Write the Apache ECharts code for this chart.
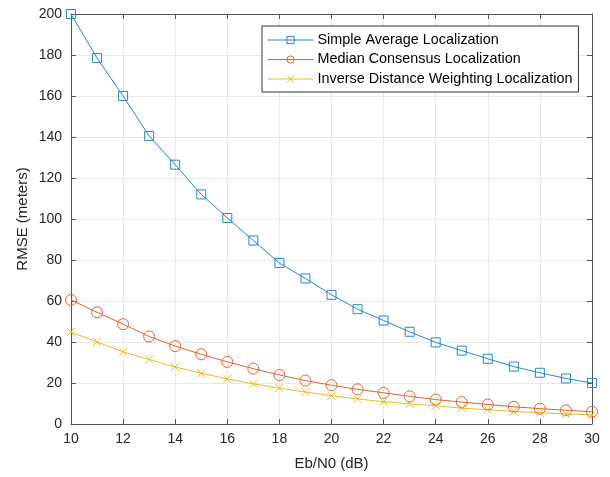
<!DOCTYPE html>
<html>
<head>
    <meta charset="UTF-8">
    <title>RMSE vs Eb/N0</title>
    <script src="https://cdn.jsdelivr.net/npm/echarts@6/dist/echarts.min.js"></script>
</head>
<body style="margin:0;background:#fff;">
<div id="main" style="width:610px;height:477px;"></div>
<script type="text/javascript">
    // x 轴 Eb/N0 (dB)
    var ebn0 = [10, 11, 12, 13, 14, 15, 16, 17, 18, 19, 20, 21, 22, 23, 24, 25, 26, 27, 28, 29, 30];
    // 三种定位方法的 RMSE
    var simpleAvg = [200, 178.5, 160, 140.5, 126.5, 112, 100.5, 89.5, 78.5, 71, 63, 56, 50.5, 45, 39.8, 35.8, 31.8, 28, 25, 22.2, 20];
    var medianCons = [60.5, 54.5, 48.7, 42.7, 38, 34, 30.3, 27, 23.9, 21.2, 18.9, 16.9, 15.2, 13.5, 11.9, 10.7, 9.5, 8.4, 7.5, 6.7, 6];
    var invDist = [44.8, 40, 35.2, 31.5, 27.8, 24.8, 22, 19.6, 17.5, 15.6, 13.8, 12.2, 10.9, 9.8, 8.9, 7.7, 7, 6.1, 5.5, 4.9, 4.5];
    var seriesNames = ['Simple Average Localization', 'Median Consensus Localization', 'Inverse Distance Weighting Localization'];

    var colors = ['#2a86c4', '#dc6436', '#eab92e'];
    var axisColor = '#555555';
    var textColor = '#262626';
    var font = 'Liberation Sans, Arial, Helvetica, sans-serif';

    // 空心标记（只描边）
    var squarePath = 'path://M0,0H10V10H0Z';
    var circlePath = 'path://M5,0A5,5 0 1 1 5,10A5,5 0 1 1 5,0Z';
    var crossPath = 'path://M0,0L10,10M10,0L0,10';

    function pairs(arr) {
        return arr.map(function (v, i) { return [ebn0[i], v]; });
    }

    var chart = echarts.init(document.getElementById('main'));

    var boxX = {
        type: 'value', min: 10, max: 30, interval: 2,
        axisLine: {show: true, onZero: false, lineStyle: {color: axisColor, width: 1}},
        axisTick: {show: true, inside: true, length: 5, lineStyle: {color: axisColor}},
        splitLine: {show: false}
    };
    var boxY = {
        type: 'value', min: 0, max: 200, interval: 20,
        axisLine: {show: true, onZero: false, lineStyle: {color: axisColor, width: 1}},
        axisTick: {show: true, inside: true, length: 5, lineStyle: {color: axisColor}},
        splitLine: {show: false}
    };

    function lineSeries(i, data, symbol, size) {
        return {
            name: seriesNames[i], type: 'line', data: pairs(data),
            symbol: symbol, symbolSize: size,
            lineStyle: {width: 1, color: colors[i]},
            itemStyle: {color: 'none', borderColor: colors[i], borderWidth: 1}
        };
    }

    var option = {
        animation: false,
        color: colors,
        textStyle: {fontFamily: font},
        grid: {left: 71, right: 18, top: 14, bottom: 53, containLabel: false},
        legend: {
            orient: 'vertical',
            left: 262, top: 26,
            itemWidth: 46, itemHeight: 9, itemGap: 5.5,
            padding: [7, 6, 6, 5],
            borderColor: '#333333', borderWidth: 1,
            backgroundColor: '#fff',
            lineStyle: {width: 1},
            itemStyle: {borderWidth: 1},
            textStyle: {fontFamily: font, fontSize: 14.4, color: '#000', padding: [0, 0, 0, -1]},
            data: seriesNames
        },
        xAxis: [
            Object.assign({}, boxX, {
                position: 'bottom',
                name: 'Eb/N0 (dB)', nameLocation: 'middle', nameGap: 32,
                nameMoveOverlap: false,
                nameTextStyle: {fontFamily: font, fontSize: 15, color: textColor},
                axisLabel: {fontFamily: font, fontSize: 14, color: textColor, margin: 8},
                splitLine: {show: true, lineStyle: {color: '#e8e8e8', width: 1}}
            }),
            Object.assign({}, boxX, {position: 'top', axisLabel: {show: false}})
        ],
        yAxis: [
            Object.assign({}, boxY, {
                position: 'left',
                name: 'RMSE (meters)', nameLocation: 'middle', nameGap: 41,
                nameMoveOverlap: false,
                nameTextStyle: {fontFamily: font, fontSize: 15, color: textColor},
                axisLabel: {fontFamily: font, fontSize: 14, color: textColor, margin: 9},
                splitLine: {show: true, lineStyle: {color: '#e8e8e8', width: 1}}
            }),
            Object.assign({}, boxY, {position: 'right', axisLabel: {show: false}})
        ],
        series: [
            lineSeries(0, simpleAvg, squarePath, 9),
            lineSeries(1, medianCons, circlePath, 11),
            lineSeries(2, invDist, crossPath, 8)
        ]
    };

    chart.setOption(option);
</script>
</body>
</html>
